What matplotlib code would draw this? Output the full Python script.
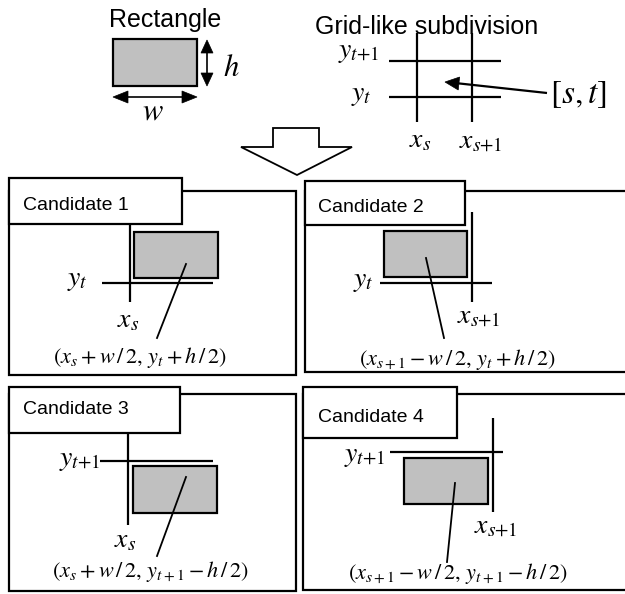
import matplotlib
matplotlib.use("Agg")
import matplotlib.pyplot as plt
from matplotlib.patches import Rectangle, Polygon
import numpy as np

plt.rcParams['mathtext.fontset'] = 'stix'
plt.rcParams['font.family'] = ['Liberation Sans', 'DejaVu Sans']

# ---- content ----
titles = ["Rectangle", "Grid-like subdivision"]
candidate_labels = ["Candidate 1", "Candidate 2", "Candidate 3", "Candidate 4"]
candidate_formulas = [r"$(x_s+w\,/\,2,\, y_t+h\,/\,2)$",
                      r"$(x_{s+1}-w\,/\,2,\, y_t+h\,/\,2)$",
                      r"$(x_s+w\,/\,2,\, y_{t+1}-h\,/\,2)$",
                      r"$(x_{s+1}-w\,/\,2,\, y_{t+1}-h\,/\,2)$"]
grid_labels = [r"$y_{t{+}1}$", r"$y_t$", r"$x_s$", r"$x_{s{+}1}$"]
candidate_ylabels = [r"$y_t$", r"$y_t$", r"$y_{t{+}1}$", r"$y_{t{+}1}$"]
candidate_xlabels = [r"$x_s$", r"$x_{s{+}1}$", r"$x_s$", r"$x_{s{+}1}$"]

GREY = '#c0c0c0'
W, H = 625, 594
fig = plt.figure(figsize=(W/100, H/100), dpi=100)
ax = fig.add_axes([0, 0, 1, 1])
ax.set_xlim(0, W)
ax.set_ylim(H, 0)
ax.axis('off')

LW = 1.6
MAIN = 20

def line(x0, y0, x1, y1, lw=LW):
    ax.plot([x0, x1], [y0, y1], color='black', lw=lw, solid_capstyle='butt')

def head(tip, frm, length, width):
    tip = np.array(tip, float); frm = np.array(frm, float)
    d = tip - frm; d /= np.hypot(*d)
    n = np.array([-d[1], d[0]])
    base = tip - d * length
    ax.add_patch(Polygon([tip, base + n*width/2, base - n*width/2],
                         closed=True, fc='black', ec='black', lw=0.5))

def rect(x0, y0, x1, y1, fc=GREY, lw=LW, z=2):
    ax.add_patch(Rectangle((x0, y0), x1-x0, y1-y0, fc=fc, ec='black', lw=lw, zorder=z))

def label(rx, by, s):
    ax.text(rx, by, s, fontsize=MAIN, ha='right', va='baseline')

# ---- top left: rectangle ----
ax.text(165, 20, titles[0], fontsize=18, ha='center', va='center')
rect(113, 39, 197, 86)
line(207, 52, 207, 74, lw=1.2)
head((207, 40), (207, 60), 13, 12)
head((207, 86), (207, 60), 13, 12)
ax.text(231, 68, r"$h$", fontsize=22, ha='center', va='center')
line(125, 97, 185, 97, lw=1.2)
head((113, 97), (150, 97), 15, 12)
head((197, 97), (150, 97), 15, 12)
ax.text(153, 112, r"$w$", fontsize=22, ha='center', va='center')

# ---- top right: grid ----
ax.text(427, 27, titles[1], fontsize=18, ha='center', va='center')
for gx in (417, 472):
    line(gx, 33, gx, 122)
for gy in (61, 97):
    line(389, gy, 501, gy)
grid_pos = [(379, 57), (372, 100), (431, 147), (503, 147)]
for (rx, by), s in zip(grid_pos, grid_labels):
    label(rx, by, s)
line(547, 93, 455, 83, lw=1.6)
head((445, 82), (547, 93), 14, 13)
ax.text(578, 95, r"$[s,t]$", fontsize=24, ha='center', va='center')

# ---- big hollow arrow ----
ax.add_patch(Polygon([(273, 128), (319, 128), (319, 147), (352, 147),
                      (297, 175), (241, 147), (273, 147)],
                     closed=True, fc='white', ec='black', lw=1.3))

# ---- candidate panels ----
panels = [
    dict(box=(9, 191, 296, 375), lab=(9, 178, 182, 224), tx=23, ty=205),
    dict(box=(305, 191, 640, 372), lab=(305, 181, 465, 225), tx=318, ty=207),
    dict(box=(9, 394, 296, 591), lab=(9, 387, 180, 433), tx=23, ty=410),
    dict(box=(303, 394, 640, 590), lab=(303, 387, 457, 438), tx=318, ty=417),
]
geo = [
    dict(v=(130, 224, 302), h=(283, 102, 213), r=(134, 232, 218, 278),
         yl=(88, 285), xl=(139, 327), lead=((186, 264), (157, 338)), f=(140, 358)),
    dict(v=(472, 212, 302), h=(283, 380, 492), r=(384, 231, 467, 277),
         yl=(374, 286), xl=(501, 322), lead=((426, 258), (444, 338)), f=(457, 360)),
    dict(v=(128, 433, 525), h=(461, 100, 213), r=(133, 466, 217, 513),
         yl=(100, 465), xl=(136, 547), lead=((186, 477), (157, 556)), f=(150, 572)),
    dict(v=(493, 418, 512), h=(452, 390, 503), r=(404, 458, 488, 504),
         yl=(385, 461), xl=(518, 532), lead=((455, 483), (447, 562)), f=(458, 573)),
]

for i, (p, g) in enumerate(zip(panels, geo)):
    rect(*p['box'], fc='white', z=1)
    rect(*p['lab'], fc='white', z=3)
    ax.text(p['tx'], p['ty'], candidate_labels[i], fontsize=14,
            ha='left', va='center', zorder=4)
    vx, vy0, vy1 = g['v']
    line(vx, vy0, vx, vy1)
    hy, hx0, hx1 = g['h']
    line(hx0, hy, hx1, hy)
    rect(*g['r'], z=2)
    label(*g['yl'], candidate_ylabels[i])
    label(*g['xl'], candidate_xlabels[i])
    (a, b), (c, d) = g['lead']
    ax.plot([a, c], [b, d], color='black', lw=1.3, zorder=5)
    ax.text(*g['f'], candidate_formulas[i], fontsize=16, ha='center', va='center')

fig.savefig('out.png', dpi=100)
